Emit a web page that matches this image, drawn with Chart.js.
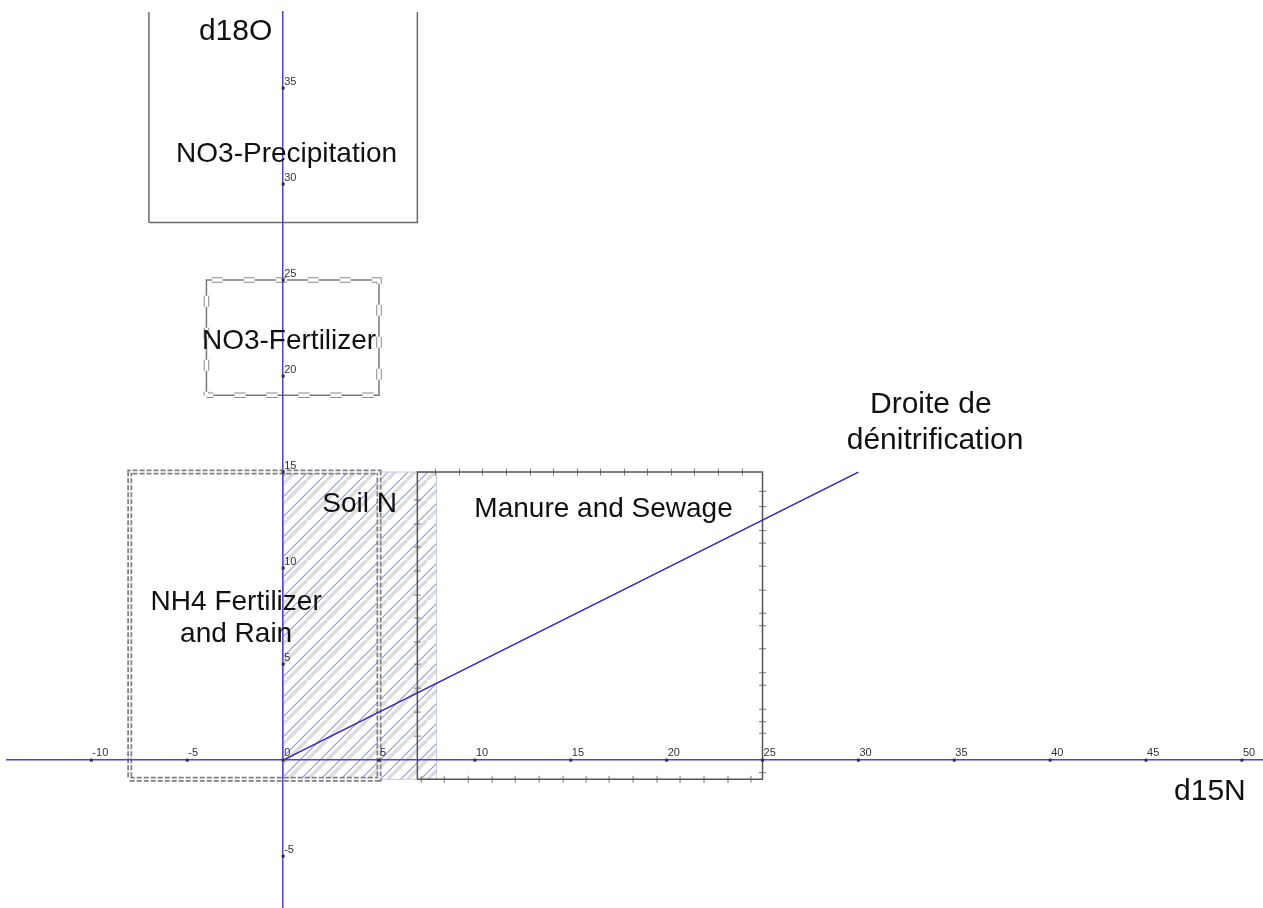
<!doctype html>
<html lang="fr">

<head>
  <title>d15N / d18O</title>
  <meta charset="utf-8" />
  <style>
    body { margin: 0; background: #fff; }
  </style>
</head>

<body>
  <canvas id="lienzo" width="1263" height="908"></canvas>
  <script src="https://cdn.jsdelivr.net/npm/chart.js"></script>
  <script>
    // graduations des axes
    const xTicks = [-10, -5, 0, 5, 10, 15, 20, 25, 30, 35, 40, 45, 50]
    const yTicks = [-5, 5, 10, 15, 20, 25, 30, 35]

    // domaines [xmin, xmax, ymin, ymax]
    const precipitation = [-7, 7, 28, 45]
    const no3Fertilizer = [-4, 5, 19, 25]
    const nh4FertRain = [-8, 5, -1, 15]
    const soilN = [0, 8, -1, 15]
    const manureSewage = [7, 25, -1, 15]

    // droite de dénitrification
    const denitX = [0, 30]
    const denitY = [0, 15]

    // petites graduations du cadre Manure and Sewage
    const manureBottom = [7.2, 8.4, 9.65, 10.9, 12.1, 13.35, 14.6, 15.8, 17.0, 18.25, 19.5, 20.7, 21.95, 23.2, 24.4]
    const manureTop = [7.95, 9.2, 10.4, 11.65, 12.9, 14.1, 15.35, 16.55, 17.8, 19.0, 20.25, 21.45, 22.7, 23.95]
    const manureLeft = [1.25, 2.5, 3.75, 5, 6.15, 7.4, 8.6, 9.85, 11.1, 12.3, 13.55]
    const manureRight = [-0.65, 1.4, 2.0, 2.65, 3.9, 4.55, 5.8, 7.0, 7.65, 8.85, 10.1, 11.3, 11.95, 13.2, 14.0]

    // textes placés en coordonnées du graphe
    const etiquettes = [
      { text: 'd18O', x: -2.48, y: 37.95, size: 30 },
      { text: 'd15N', x: 48.33, y: -1.64, size: 30 },
      { text: 'NO3-Precipitation', x: 0.18, y: 31.55, size: 28 },
      { text: 'NO3-Fertilizer', x: 0.31, y: 21.8, size: 28 },
      { text: 'Soil N', x: 3.99, y: 13.33, size: 28 },
      { text: 'Manure and Sewage', x: 16.71, y: 13.07, size: 28 },
      { text: 'NH4 Fertilizer', x: -2.45, y: 8.22, size: 28 },
      { text: 'and Rain', x: -2.45, y: 6.55, size: 28 },
      { text: 'Droite de', x: 33.78, y: 18.52, size: 30 },
      { text: 'dénitrification', x: 34.0, y: 16.64, size: 30 }
    ]

    const FONT = '"Liberation Sans", Arial, sans-serif'
    const axisColor = '#5a3cd0'

    function rect(b) {
      return [
        { x: b[0], y: b[2] }, { x: b[1], y: b[2] },
        { x: b[1], y: b[3] }, { x: b[0], y: b[3] }, { x: b[0], y: b[2] }
      ]
    }

    // hachures du Soil N : bande grise + trait bleu fin
    function hachures() {
      const s = 20
      const c = document.createElement('canvas')
      c.width = s; c.height = s
      const g = c.getContext('2d')
      for (let k = -1; k <= 1; k++) {
        g.strokeStyle = 'rgba(205,205,205,0.7)'
        g.lineWidth = 3.5
        g.beginPath(); g.moveTo(k * s + 7, s); g.lineTo(k * s + 7 + s, 0); g.stroke()
        g.strokeStyle = 'rgba(130,148,212,0.95)'
        g.lineWidth = 1.1
        g.beginPath(); g.moveTo(k * s, s); g.lineTo(k * s + s, 0); g.stroke()
      }
      return g.createPattern(c, 'repeat')
    }

    function boite(b, color, width, order, extra) {
      return Object.assign({
        data: rect(b), showLine: true, fill: false, pointRadius: 0,
        borderColor: color, borderWidth: width, order: order
      }, extra || {})
    }

    function graduations(list, fixed, vertical) {
      return {
        data: list.map(v => vertical ? { x: v, y: fixed } : { x: fixed, y: v }),
        showLine: false, pointStyle: 'line', rotation: vertical ? 90 : 0,
        pointRadius: 3.5, pointBorderWidth: 1, borderColor: '#777', order: 3
      }
    }

    const decor = {
      id: 'decor',
      afterDraw(chart) {
        const { ctx, scales: { x, y } } = chart
        const x0 = x.getPixelForValue(0)
        const y0 = y.getPixelForValue(0)
        ctx.save()
        ctx.fillStyle = '#333'
        ctx.font = '11px ' + FONT
        ctx.textAlign = 'left'
        ctx.textBaseline = 'alphabetic'
        xTicks.forEach(v => {
          const px = x.getPixelForValue(v)
          ctx.fillRect(px - 1.5, y0 - 1.5, 3, 3)
          ctx.fillText(String(v), px + 1, y0 - 4)
        })
        yTicks.forEach(v => {
          const py = y.getPixelForValue(v)
          ctx.fillRect(x0 - 1.5, py - 1.5, 3, 3)
          ctx.fillText(String(v), x0 + 1, py - 3)
        })
        ctx.fillStyle = '#111'
        ctx.textAlign = 'center'
        ctx.textBaseline = 'middle'
        etiquettes.forEach(e => {
          ctx.font = e.size + 'px ' + FONT
          ctx.fillText(e.text, x.getPixelForValue(e.x), y.getPixelForValue(e.y))
        })
        ctx.restore()
      }
    }

    const grafico = new Chart(document.querySelector('#lienzo'), {
      type: 'scatter',
      data: {
        datasets: [
          boite(soilN, '#c6cde4', 1, 6, { fill: 'shape', backgroundColor: hachures() }),
          boite(precipitation, '#6b6b6b', 1.5, 3),
          // cadre NO3-Fertilizer : trait fin + petits rectangles blancs
          boite(no3Fertilizer, '#7a7a7a', 1.5, 4),
          boite(no3Fertilizer, '#8a8a8a', 5.5, 3, { borderDash: [11, 21], borderDashOffset: 4 }),
          boite(no3Fertilizer, '#ffffff', 3.5, 2, { borderDash: [11, 21], borderDashOffset: 4 }),
          // cadre NH4 : double tireté
          boite(nh4FertRain, '#808080', 5, 3, { borderDash: [5, 2] }),
          boite(nh4FertRain, '#ffffff', 1.5, 2),
          boite(manureSewage, '#555555', 1.5, 3),
          graduations(manureBottom, manureSewage[2], true),
          graduations(manureTop, manureSewage[3], true),
          graduations(manureLeft, manureSewage[0], false),
          graduations(manureRight, manureSewage[1], false),
          {
            data: denitX.map((v, i) => ({ x: v, y: denitY[i] })),
            showLine: true, pointRadius: 0, borderColor: '#3c22a6', borderWidth: 1.6, order: 1
          }
        ]
      },
      options: {
        responsive: false,
        animation: false,
        devicePixelRatio: 1,
        layout: { autoPadding: false, padding: { left: 7, top: 12, right: 0, bottom: 0 } },
        plugins: { legend: { display: false }, tooltip: { enabled: false } },
        scales: {
          x: {
            type: 'linear', min: -14.4, max: 51.1, position: { y: 0 },
            grid: { display: false, drawTicks: false },
            ticks: { display: false },
            border: { color: axisColor, width: 1.5, z: 1 }
          },
          y: {
            type: 'linear', min: -7.7, max: 38.96, position: { x: 0 },
            grid: { display: false, drawTicks: false },
            ticks: { display: false },
            border: { color: axisColor, width: 1.5, z: 1 }
          }
        }
      },
      plugins: [decor]
    })
  </script>
</body>

</html>
